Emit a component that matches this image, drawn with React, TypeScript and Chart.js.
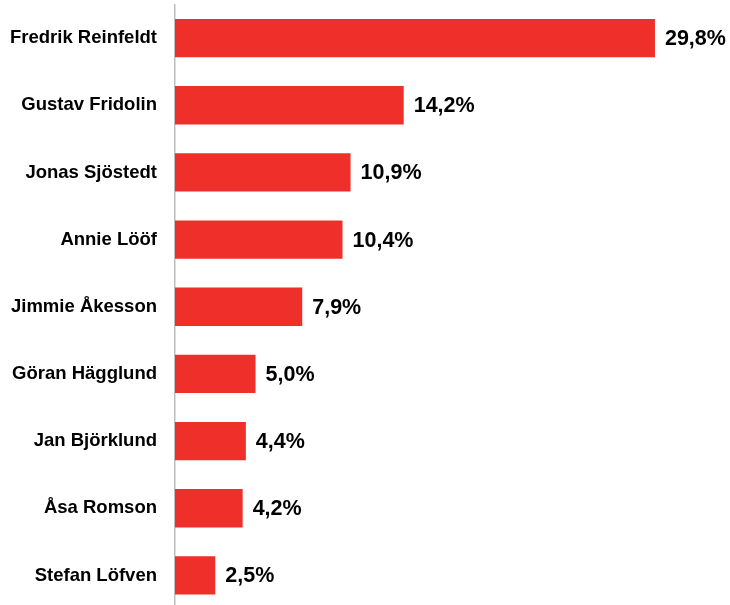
import React, { useEffect, useRef } from "react";
import { Chart, registerables } from "chart.js";

Chart.register(...registerables);

const categories = [
  "Fredrik Reinfeldt",
  "Gustav Fridolin",
  "Jonas Sjöstedt",
  "Annie Lööf",
  "Jimmie Åkesson",
  "Göran Hägglund",
  "Jan Björklund",
  "Åsa Romson",
  "Stefan Löfven",
];
const values = [29.8, 14.2, 10.9, 10.4, 7.9, 5.0, 4.4, 4.2, 2.5];

const FONT = "'Liberation Sans', Arial, Helvetica, sans-serif";

const valueLabels = {
  id: "valueLabels",
  afterDatasetsDraw(chart: any) {
    const ctx = chart.ctx;
    const meta = chart.getDatasetMeta(0);
    ctx.save();
    ctx.font = `bold 21.5px ${FONT}`;
    ctx.fillStyle = "#000";
    ctx.textAlign = "left";
    ctx.textBaseline = "middle";
    meta.data.forEach((bar: any, i: number) => {
      const txt = values[i].toFixed(1).replace(".", ",") + "%";
      ctx.fillText(txt, bar.x + 10, bar.y + 1);
    });
    ctx.restore();
  },
};

export default function App() {
  const ref = useRef<HTMLCanvasElement | null>(null);
  useEffect(() => {
    if (!ref.current) return;
    const chart = new Chart(ref.current, {
      type: "bar",
      data: {
        labels: categories,
        datasets: [
          {
            data: values,
            backgroundColor: "#EE2F2A",
            borderWidth: 0,
            categoryPercentage: 1,
            barPercentage: 0.571,
          },
        ],
      },
      options: {
        indexAxis: "y",
        animation: false,
        responsive: true,
        maintainAspectRatio: false,
        layout: { padding: { top: 4.5, right: 7.4, left: 0, bottom: 0 } },
        plugins: { legend: { display: false }, tooltip: { enabled: false } },
        scales: {
          x: { display: false, min: 0, max: 34 },
          y: {
            afterFit: (s: any) => {
              s.width = 175;
              s.paddingTop = 0;
              s.paddingBottom = 0;
            },
            grid: { display: false, drawTicks: false },
            border: { display: true, color: "#bdbdbd", width: 1.5 },
            ticks: {
              padding: 18,
              color: "#000",
              font: { family: FONT, size: 18.5, weight: "bold" },
            },
          },
        },
      },
      plugins: [valueLabels],
    });
    return () => chart.destroy();
  }, []);
  return (
    <div style={{ position: "fixed", left: 0, top: 0, width: 730, height: 605, overflow: "hidden", background: "#fff" }}>
      <div style={{ position: "relative", width: 730, height: 609 }}>
        <canvas ref={ref} />
      </div>
    </div>
  );
}
